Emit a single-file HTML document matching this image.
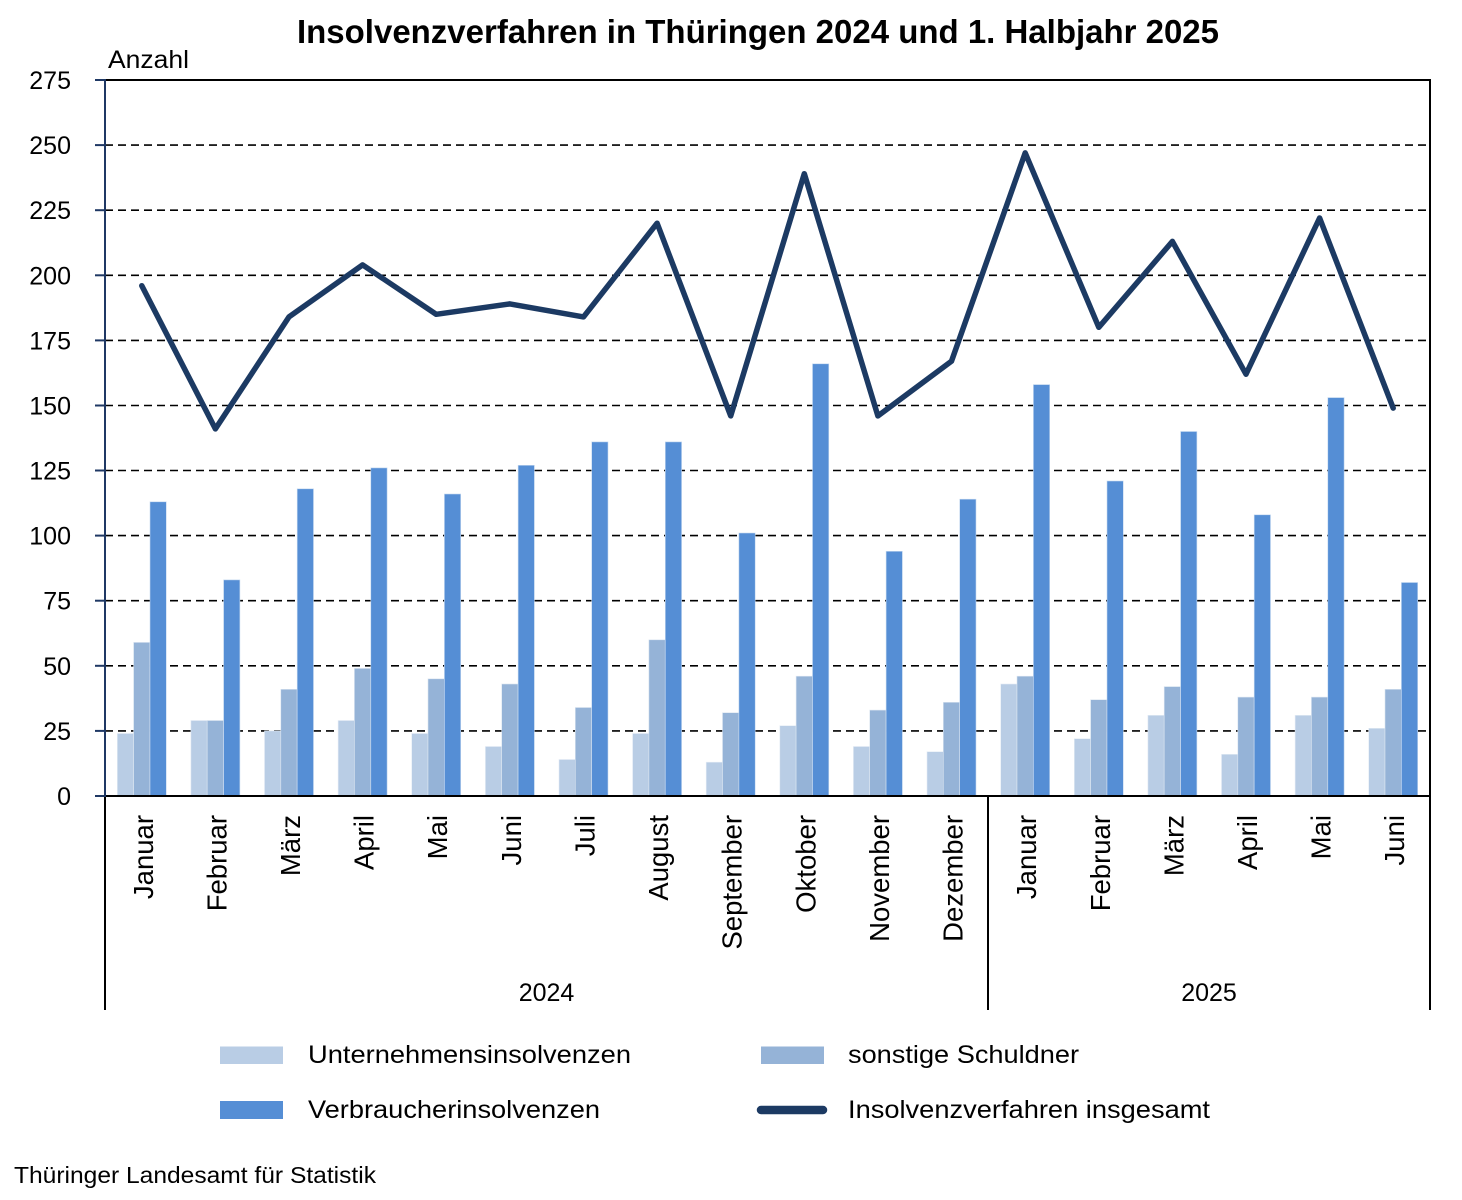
<!DOCTYPE html>
<html>
<head>
<meta charset="utf-8">
<style>
html,body{margin:0;padding:0;background:#fff;}
svg{display:block;}
text{font-family:"Liberation Sans",sans-serif;fill:#000;}
</style>
</head>
<body>
<svg width="1462" height="1200" viewBox="0 0 1462 1200" xmlns="http://www.w3.org/2000/svg">
<rect x="0" y="0" width="1462" height="1200" fill="#fff"/>
<!-- Title -->
<text x="297" y="43" font-size="33" font-weight="bold" textLength="922" lengthAdjust="spacingAndGlyphs">Insolvenzverfahren in Thüringen 2024 und 1. Halbjahr 2025</text>
<text x="108" y="68" font-size="25" textLength="81" lengthAdjust="spacingAndGlyphs">Anzahl</text>

<!-- Gridlines -->
<g stroke="#000" stroke-width="1.6" stroke-dasharray="8 5">
<line x1="105" y1="730.9" x2="1430" y2="730.9"/>
<line x1="105" y1="665.8" x2="1430" y2="665.8"/>
<line x1="105" y1="600.7" x2="1430" y2="600.7"/>
<line x1="105" y1="535.6" x2="1430" y2="535.6"/>
<line x1="105" y1="470.5" x2="1430" y2="470.5"/>
<line x1="105" y1="405.5" x2="1430" y2="405.5"/>
<line x1="105" y1="340.4" x2="1430" y2="340.4"/>
<line x1="105" y1="275.3" x2="1430" y2="275.3"/>
<line x1="105" y1="210.2" x2="1430" y2="210.2"/>
<line x1="105" y1="145.1" x2="1430" y2="145.1"/>
</g>

<!-- Bars: Unternehmensinsolvenzen -->
<g fill="#b9cde5" stroke="#e4ecf5" stroke-width="0.6">
<rect x="117.3" y="733.5" width="16.3" height="62.5"/>
<rect x="190.9" y="720.5" width="16.3" height="75.5"/>
<rect x="264.5" y="730.9" width="16.3" height="65.1"/>
<rect x="338.1" y="720.5" width="16.3" height="75.5"/>
<rect x="411.7" y="733.5" width="16.3" height="62.5"/>
<rect x="485.4" y="746.5" width="16.3" height="49.5"/>
<rect x="559.0" y="759.5" width="16.3" height="36.5"/>
<rect x="632.6" y="733.5" width="16.3" height="62.5"/>
<rect x="706.2" y="762.2" width="16.3" height="33.8"/>
<rect x="779.8" y="725.7" width="16.3" height="70.3"/>
<rect x="853.4" y="746.5" width="16.3" height="49.5"/>
<rect x="927.0" y="751.7" width="16.3" height="44.3"/>
<rect x="1000.7" y="684.0" width="16.3" height="112.0"/>
<rect x="1074.3" y="738.7" width="16.3" height="57.3"/>
<rect x="1147.9" y="715.3" width="16.3" height="80.7"/>
<rect x="1221.5" y="754.3" width="16.3" height="41.7"/>
<rect x="1295.1" y="715.3" width="16.3" height="80.7"/>
<rect x="1368.7" y="728.3" width="16.3" height="67.7"/>
</g>
<!-- Bars: sonstige Schuldner -->
<g fill="#95b3d7" stroke="#dbe5f1" stroke-width="0.6">
<rect x="133.6" y="642.4" width="16.3" height="153.6"/>
<rect x="207.2" y="720.5" width="16.3" height="75.5"/>
<rect x="280.8" y="689.3" width="16.3" height="106.7"/>
<rect x="354.4" y="668.4" width="16.3" height="127.6"/>
<rect x="428.0" y="678.8" width="16.3" height="117.2"/>
<rect x="501.7" y="684.0" width="16.3" height="112.0"/>
<rect x="575.3" y="707.5" width="16.3" height="88.5"/>
<rect x="648.9" y="639.8" width="16.3" height="156.2"/>
<rect x="722.5" y="712.7" width="16.3" height="83.3"/>
<rect x="796.1" y="676.2" width="16.3" height="119.8"/>
<rect x="869.7" y="710.1" width="16.3" height="85.9"/>
<rect x="943.3" y="702.3" width="16.3" height="93.7"/>
<rect x="1017.0" y="676.2" width="16.3" height="119.8"/>
<rect x="1090.6" y="699.7" width="16.3" height="96.3"/>
<rect x="1164.2" y="686.6" width="16.3" height="109.4"/>
<rect x="1237.8" y="697.1" width="16.3" height="98.9"/>
<rect x="1311.4" y="697.1" width="16.3" height="98.9"/>
<rect x="1385.0" y="689.3" width="16.3" height="106.7"/>
</g>
<!-- Bars: Verbraucherinsolvenzen -->
<g fill="#558ed5" stroke="#c6d9f0" stroke-width="0.6">
<rect x="150.0" y="501.8" width="16.3" height="294.2"/>
<rect x="223.6" y="579.9" width="16.3" height="216.1"/>
<rect x="297.2" y="488.8" width="16.3" height="307.2"/>
<rect x="370.8" y="467.9" width="16.3" height="328.1"/>
<rect x="444.4" y="494.0" width="16.3" height="302.0"/>
<rect x="518.1" y="465.3" width="16.3" height="330.7"/>
<rect x="591.7" y="441.9" width="16.3" height="354.1"/>
<rect x="665.3" y="441.9" width="16.3" height="354.1"/>
<rect x="738.9" y="533.0" width="16.3" height="263.0"/>
<rect x="812.5" y="363.8" width="16.3" height="432.2"/>
<rect x="886.1" y="551.3" width="16.3" height="244.7"/>
<rect x="959.7" y="499.2" width="16.3" height="296.8"/>
<rect x="1033.4" y="384.6" width="16.3" height="411.4"/>
<rect x="1107.0" y="481.0" width="16.3" height="315.0"/>
<rect x="1180.6" y="431.5" width="16.3" height="364.5"/>
<rect x="1254.2" y="514.8" width="16.3" height="281.2"/>
<rect x="1327.8" y="397.6" width="16.3" height="398.4"/>
<rect x="1401.4" y="582.5" width="16.3" height="213.5"/>
</g>

<!-- Total line -->
<polyline fill="none" stroke="#1c3a63" stroke-width="5.5" stroke-linejoin="round" stroke-linecap="round"
points="141.8,285.7 215.4,428.9 289.0,316.9 362.6,264.9 436.2,314.3 509.9,303.9 583.5,316.9 657.1,223.2 730.7,415.9 804.3,173.7 877.9,415.9 951.5,361.2 1025.2,152.9 1098.8,327.3 1172.4,241.4 1246.0,374.2 1319.6,218.0 1393.2,408.1"/>

<!-- Frame -->
<line x1="105" y1="80" x2="1431" y2="80" stroke="#000" stroke-width="2"/>
<line x1="1430" y1="79" x2="1430" y2="1010" stroke="#000" stroke-width="2"/>
<line x1="104" y1="796" x2="1431" y2="796" stroke="#000" stroke-width="2"/>
<line x1="105" y1="796" x2="105" y2="1010" stroke="#000" stroke-width="2"/>
<line x1="988" y1="796" x2="988" y2="1010" stroke="#000" stroke-width="2"/>
<line x1="105" y1="79" x2="105" y2="797" stroke="#1f3864" stroke-width="2"/>
<g stroke="#1f3864" stroke-width="2">
<line x1="95" y1="80" x2="105" y2="80"/>
<line x1="95" y1="145.1" x2="105" y2="145.1"/>
<line x1="95" y1="210.2" x2="105" y2="210.2"/>
<line x1="95" y1="275.3" x2="105" y2="275.3"/>
<line x1="95" y1="340.4" x2="105" y2="340.4"/>
<line x1="95" y1="405.5" x2="105" y2="405.5"/>
<line x1="95" y1="470.5" x2="105" y2="470.5"/>
<line x1="95" y1="535.6" x2="105" y2="535.6"/>
<line x1="95" y1="600.7" x2="105" y2="600.7"/>
<line x1="95" y1="665.8" x2="105" y2="665.8"/>
<line x1="95" y1="730.9" x2="105" y2="730.9"/>
<line x1="95" y1="796" x2="105" y2="796"/>
</g>

<!-- Y labels -->
<g font-size="25" text-anchor="end">
<text x="71" y="89">275</text>
<text x="71" y="154.1">250</text>
<text x="71" y="219.2">225</text>
<text x="71" y="284.3">200</text>
<text x="71" y="349.4">175</text>
<text x="71" y="414.5">150</text>
<text x="71" y="479.5">125</text>
<text x="71" y="544.6">100</text>
<text x="71" y="609.7">75</text>
<text x="71" y="674.8">50</text>
<text x="71" y="739.9">25</text>
<text x="71" y="805">0</text>
</g>

<!-- Month labels -->
<g font-size="27.5" text-anchor="end">
<text transform="translate(153,815) rotate(-90)">Januar</text>
<text transform="translate(226.4,815) rotate(-90)">Februar</text>
<text transform="translate(300,815) rotate(-90)">März</text>
<text transform="translate(373.6,815) rotate(-90)">April</text>
<text transform="translate(447.2,815) rotate(-90)">Mai</text>
<text transform="translate(520.9,815) rotate(-90)">Juni</text>
<text transform="translate(594.5,815) rotate(-90)">Juli</text>
<text transform="translate(668.1,815) rotate(-90)">August</text>
<text transform="translate(741.7,815) rotate(-90)">September</text>
<text transform="translate(815.3,815) rotate(-90)">Oktober</text>
<text transform="translate(888.9,815) rotate(-90)">November</text>
<text transform="translate(962.5,815) rotate(-90)">Dezember</text>
<text transform="translate(1036.2,815) rotate(-90)">Januar</text>
<text transform="translate(1109.8,815) rotate(-90)">Februar</text>
<text transform="translate(1183.4,815) rotate(-90)">März</text>
<text transform="translate(1257,815) rotate(-90)">April</text>
<text transform="translate(1330.6,815) rotate(-90)">Mai</text>
<text transform="translate(1404.2,815) rotate(-90)">Juni</text>
</g>
<g font-size="25" text-anchor="middle">
<text x="546.5" y="1001">2024</text>
<text x="1209" y="1001">2025</text>
</g>

<!-- Legend -->
<rect x="220" y="1046.5" width="63" height="17.5" fill="#b9cde5"/>
<rect x="761" y="1046.5" width="63" height="17.5" fill="#95b3d7"/>
<rect x="220" y="1101" width="63" height="18" fill="#558ed5"/>
<line x1="761" y1="1110" x2="823" y2="1110" stroke="#1c3a63" stroke-width="8.5" stroke-linecap="round"/>
<g font-size="25">
<text x="308" y="1063" textLength="323" lengthAdjust="spacingAndGlyphs">Unternehmensinsolvenzen</text>
<text x="848" y="1063" textLength="231" lengthAdjust="spacingAndGlyphs">sonstige Schuldner</text>
<text x="308" y="1118" textLength="292" lengthAdjust="spacingAndGlyphs">Verbraucherinsolvenzen</text>
<text x="848" y="1118" textLength="362" lengthAdjust="spacingAndGlyphs">Insolvenzverfahren insgesamt</text>
</g>

<!-- Footer -->
<text x="14" y="1183" font-size="23" textLength="362" lengthAdjust="spacingAndGlyphs">Thüringer Landesamt für Statistik</text>
</svg>
</body>
</html>
